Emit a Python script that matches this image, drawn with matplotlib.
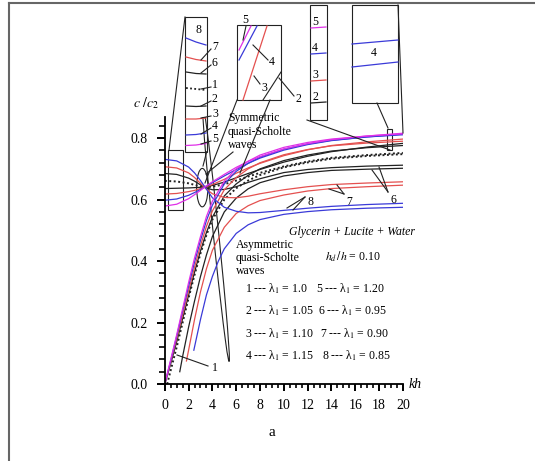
import matplotlib
matplotlib.use("Agg")
import matplotlib.pyplot as plt
from matplotlib.patches import Ellipse, Rectangle
from matplotlib.ticker import MultipleLocator, FormatStrFormatter

plt.rcParams['font.family'] = ['Liberation Serif', 'DejaVu Serif']
plt.rcParams['mathtext.fontset'] = 'stix'

BLUE = '#3a3ad8'
RED = '#e4504f'
MAG = '#e030e8'
BLACK = '#222222'

curve_ids = [2, 6, 1, 3, 7, 4, 8, 5]
colors = {1: BLACK, 2: BLACK, 3: RED, 4: BLUE, 5: MAG, 6: BLACK, 7: RED, 8: BLUE}
lam_labels = ['1 --- λ$_1$ = 1.0', '2 --- λ$_1$ = 1.05', '3 --- λ$_1$ = 1.10',
              '4 --- λ$_1$ = 1.15', '5 --- λ$_1$ = 1.20', '6 --- λ$_1$ = 0.95',
              '7 --- λ$_1$ = 0.90', '8 --- λ$_1$ = 0.85']

# symmetric quasi-Scholte branches
kh_sym = [0, 1, 2, 2.5, 3, 3.5, 4, 5, 6, 7, 8, 10, 12, 14, 17, 20]
sym = {
    5: [0.579, 0.585, 0.603, 0.616, 0.630, 0.645, 0.658, 0.682, 0.705, 0.724, 0.740, 0.765, 0.782, 0.795, 0.807, 0.816],
    4: [0.598, 0.602, 0.614, 0.623, 0.633, 0.644, 0.655, 0.677, 0.698, 0.718, 0.735, 0.761, 0.779, 0.792, 0.804, 0.813],
    3: [0.618, 0.620, 0.626, 0.630, 0.636, 0.642, 0.649, 0.666, 0.686, 0.703, 0.718, 0.743, 0.762, 0.776, 0.788, 0.797],
    2: [0.636, 0.637, 0.638, 0.639, 0.640, 0.642, 0.646, 0.657, 0.671, 0.685, 0.698, 0.722, 0.741, 0.756, 0.771, 0.783],
    1: [0.661, 0.659, 0.653, 0.648, 0.643, 0.641, 0.642, 0.650, 0.662, 0.675, 0.687, 0.708, 0.724, 0.736, 0.745, 0.752],
    6: [0.685, 0.682, 0.670, 0.660, 0.648, 0.638, 0.632, 0.633, 0.642, 0.656, 0.668, 0.688, 0.698, 0.704, 0.709, 0.712],
    7: [0.707, 0.703, 0.687, 0.672, 0.653, 0.634, 0.619, 0.607, 0.606, 0.611, 0.619, 0.632, 0.642, 0.649, 0.654, 0.658],
    8: [0.731, 0.726, 0.706, 0.687, 0.662, 0.634, 0.606, 0.575, 0.562, 0.557, 0.558, 0.565, 0.572, 0.578, 0.584, 0.588],
}

# asymmetric quasi-Scholte branches
kh_asym_a = [0, 0.5, 1, 1.5, 2, 2.5, 3, 3.5, 4, 5, 6, 7, 8, 10, 12, 14, 17, 20]
kh_asym_1 = [0.2, 0.5, 1, 1.5, 2, 2.5, 3, 3.5, 4, 5, 6, 7, 8, 10, 12, 14, 17, 20]
kh_asym_6 = [1.26, 1.5, 2, 2.5, 3, 3.5, 4, 5, 6, 7, 8, 10, 12, 14, 17, 20]
kh_asym_7 = [1.82, 2, 2.5, 3, 3.5, 4, 5, 6, 7, 8, 10, 12, 14, 17, 20]
kh_asym_8 = [2.44, 3, 3.5, 4, 4.5, 5, 6, 7, 8, 10, 12, 14, 17, 20]
asym = {
    5: (kh_asym_a, [0, 0.08, 0.16, 0.245, 0.33, 0.41, 0.48, 0.545, 0.595, 0.66, 0.70, 0.725, 0.745, 0.77, 0.786, 0.797, 0.807, 0.814]),
    4: (kh_asym_a, [0, 0.076, 0.155, 0.237, 0.318, 0.397, 0.467, 0.532, 0.582, 0.651, 0.692, 0.718, 0.738, 0.764, 0.781, 0.793, 0.804, 0.811]),
    3: (kh_asym_a, [0, 0.072, 0.147, 0.225, 0.303, 0.38, 0.45, 0.513, 0.563, 0.632, 0.672, 0.700, 0.720, 0.746, 0.763, 0.775, 0.784, 0.790]),
    2: (kh_asym_a, [0, 0.066, 0.137, 0.213, 0.289, 0.364, 0.433, 0.493, 0.543, 0.612, 0.651, 0.679, 0.700, 0.727, 0.745, 0.758, 0.769, 0.776]),
    1: (kh_asym_1, [0, 0.045, 0.12, 0.2, 0.28, 0.355, 0.425, 0.485, 0.535, 0.6, 0.637, 0.662, 0.68, 0.705, 0.721, 0.733, 0.742, 0.748]),
    6: (kh_asym_6, [0.04, 0.09, 0.185, 0.27, 0.35, 0.42, 0.48, 0.56, 0.605, 0.635, 0.655, 0.677, 0.688, 0.695, 0.699, 0.702]),
    7: (kh_asym_7, [0.075, 0.11, 0.21, 0.30, 0.375, 0.435, 0.51, 0.555, 0.58, 0.597, 0.615, 0.628, 0.636, 0.642, 0.647]),
    8: (kh_asym_8, [0.11, 0.21, 0.29, 0.35, 0.4, 0.44, 0.49, 0.518, 0.535, 0.552, 0.561, 0.567, 0.572, 0.575]),
}


def style(i):
    if i == 1:
        return dict(color=BLACK, lw=1.4, ls=(0, (1, 1.3)))
    return dict(color=colors[i], lw=0.9, ls='-')


def main():
    fig = plt.figure(figsize=(5.35, 4.61), dpi=100)
    ax = fig.add_axes([0.308, 0.167, 0.445, 0.58])

    for i in curve_ids:
        ax.plot(kh_sym, sym[i], **style(i))
        ax.plot(asym[i][0], asym[i][1], **style(i))

    ax.set_xlim(0, 20)
    ax.set_ylim(0, 0.87)
    ax.spines['top'].set_visible(False)
    ax.spines['right'].set_visible(False)
    for s in ('left', 'bottom'):
        ax.spines[s].set_linewidth(1.3)
    ax.xaxis.set_major_locator(MultipleLocator(2))
    ax.xaxis.set_minor_locator(MultipleLocator(0.5))
    ax.yaxis.set_major_locator(MultipleLocator(0.2))
    ax.yaxis.set_minor_locator(MultipleLocator(0.04))
    ax.yaxis.set_major_formatter(FormatStrFormatter('%.1f'))
    ax.tick_params(which='major', direction='out', length=6, width=1.4, labelsize=10, pad=6)
    ax.tick_params(which='minor', direction='out', length=4, width=1.2)
    ax.tick_params(axis='x', which='major', length=5)
    ax.tick_params(axis='x', which='minor', length=3)
    ax.text(20.5, 0.0, 'kh', style='italic', fontsize=10, va='center')

    # ellipses marking the two wave families
    ax.add_patch(Ellipse((3.15, 0.639), 0.95, 0.125, fill=False, lw=0.8, color=BLACK))
    ax.add_patch(Ellipse((4.3, 0.49), 2.4, 0.16, angle=-20, fill=False, lw=0.8, color=BLACK))
    # magnified regions
    ax.add_patch(Rectangle((0.3, 0.565), 1.2, 0.195, fill=False, lw=0.8, color=BLACK, clip_on=False))
    ax.add_patch(Rectangle((18.7, 0.76), 0.4, 0.07, fill=False, lw=0.8, color=BLACK, clip_on=False))

    # overlay in pixel units for the inset sketches and notes
    ov = fig.add_axes([0, 0, 1, 1], zorder=5)
    ov.set_xlim(0, 535)
    ov.set_ylim(461, 0)
    ov.axis('off')
    ov.patch.set_alpha(0)
    k = dict(color=BLACK, lw=0.8)

    ov.plot([9, 535], [3, 3], color='#666666', lw=1.5)
    ov.plot([9, 9], [3, 461], color='#666666', lw=1.5)

    # left narrow inset
    ov.add_patch(Rectangle((185, 17), 21.7, 134.7, fill=False, **k))
    ov.plot([185, 169], [17, 150], **k)
    ov.plot([206.7, 203], [151.7, 166], **k)
    seg = [(8, BLUE, 38, 45), (7, RED, 57, 61), (6, BLACK, 72, 74), (1, BLACK, 88, 90),
           (2, BLACK, 106, 106), (3, RED, 119, 118), (4, BLUE, 135, 133), (5, MAG, 145.5, 143.5)]
    for n, c, y0, y1 in seg:
        if n == 1:
            ov.plot([186, 206], [y0, y1], color=BLACK, lw=1.3, ls=(0, (1, 1.3)))
        else:
            ov.plot([186, 196, 206], [y0, (y0 + y1) / 2 + 0.5, y1], color=c, lw=0.9)
    ov.text(198, 30, '8', fontsize=8.5, ha='center', va='center')
    for n, ly, ty in [(7, 60, 47), (6, 73, 63), (1, 89, 85), (2, 106, 99),
                      (3, 118, 114), (4, 134, 126), (5, 144, 139)]:
        ov.plot([201, 211], [ly, ty + 2], **k)
        ov.text(212, ty, str(n), fontsize=8.5, va='center')

    # top middle inset
    ov.add_patch(Rectangle((237, 25), 44, 75, fill=False, **k))
    ov.plot([239, 251], [50, 26], color=MAG, lw=0.9)
    ov.plot([239, 257], [60, 26], color=BLUE, lw=0.9)
    ov.plot([243, 267], [100, 26], color=RED, lw=0.9)
    ov.plot([263, 281], [100, 72], **k)
    ov.plot([237, 205], [100, 183], **k)
    ov.plot([270, 240], [100, 173], **k)
    ov.text(245, 20, '5', fontsize=8.5, ha='center', va='center')
    ov.plot([246, 243], [26, 40], **k)
    ov.text(272, 62, '4', fontsize=8.5, ha='center', va='center')
    ov.plot([268, 253], [60, 45], **k)
    ov.text(264, 88, '3', fontsize=8.5, ha='center', va='center')
    ov.plot([260, 254], [84, 76], **k)
    ov.text(298, 99, '2', fontsize=8.5, ha='center', va='center')
    ov.plot([294, 279], [96, 78], **k)

    # top right insets
    ov.add_patch(Rectangle((310, 5), 17, 115, fill=False, **k))
    for n, c, yy in [(5, MAG, 22), (4, BLUE, 48), (3, RED, 75), (2, BLACK, 97)]:
        ov.plot([311, 326], [yy + 6, yy + 5], color=c, lw=0.9)
        ov.text(315, yy, str(n), fontsize=8.5, ha='center', va='center')
    ov.plot([307, 390], [120, 150], **k)
    ov.add_patch(Rectangle((352, 5), 46, 98, fill=False, **k))
    ov.plot([352, 398], [44, 40], color=BLUE, lw=0.9)
    ov.plot([352, 398], [67, 62], color=BLUE, lw=0.9)
    ov.text(374, 53, '4', fontsize=8.5, ha='center', va='center')
    ov.plot([377, 388], [103, 128], **k)
    ov.plot([398, 403], [5, 133], **k)

    # notes
    ov.plot([233, 206], [152, 174], **k)
    ov.text(228, 118, 'Symmetric', fontsize=8.5, va='center')
    ov.text(228, 132, 'quasi-Scholte', fontsize=8.5, va='center')
    ov.text(228, 145, 'waves', fontsize=8.5, va='center')
    ov.text(236, 245, 'Asymmetric', fontsize=8.5, va='center')
    ov.text(236, 258, 'quasi-Scholte', fontsize=8.5, va='center')
    ov.text(236, 271, 'waves', fontsize=8.5, va='center')

    ov.text(352, 232, 'Glycerin + Lucite + Water', fontsize=8.5, style='italic', ha='center', va='center')
    ov.text(325, 257, r'$h_d\,/h$ = 0.10', fontsize=8.5, va='center')
    rows_y = [289, 311, 334, 356]
    for r in range(4):
        ov.text(245, rows_y[r], lam_labels[r], fontsize=8.5, va='center')
        ov.text(316 + r * 2, rows_y[r], lam_labels[r + 4], fontsize=8.5, va='center')

    for lx, ly, tx, ty in [(372, 170, 392, 196), (379, 167, 392, 196),
                           (329, 189, 348, 198), (337, 185, 348, 198),
                           (287, 208, 309, 201), (293, 210, 309, 201)]:
        ov.plot([lx, tx - 4], [ly, ty - 4], **k)
    ov.text(393, 200, '6', fontsize=8.5, ha='center', va='center')
    ov.text(349, 202, '7', fontsize=8.5, ha='center', va='center')
    ov.text(310, 202, '8', fontsize=8.5, ha='center', va='center')
    ov.plot([177, 208], [355, 366], **k)
    ov.text(212, 368, '1', fontsize=8.5, va='center')

    ov.text(146, 103, r'$c\ /c_2$', fontsize=10, ha='center', va='center')
    ov.text(272, 432, 'a', fontsize=11, ha='center', va='center')

    fig.savefig('out.png', dpi=100)


if __name__ == '__main__':
    main()
